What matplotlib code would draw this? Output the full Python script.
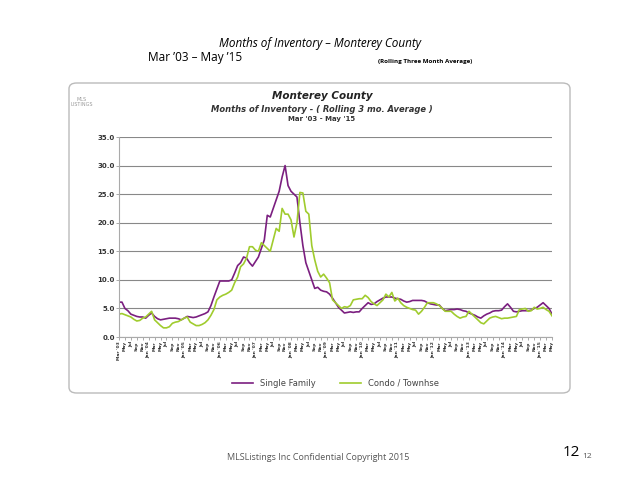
import matplotlib
matplotlib.use("Agg")
import matplotlib.pyplot as plt
from matplotlib.patches import FancyBboxPatch
import numpy as np

single_family = [6.1,6.1,5.0,4.6,4.0,3.8,3.6,3.5,3.5,3.3,
 3.8,4.2,3.6,3.2,3.0,3.1,3.2,3.3,3.3,3.3,3.2,3.0,
 3.3,3.6,3.5,3.4,3.5,3.7,3.9,4.1,4.4,5.5,7.0,8.4,
 9.8,9.8,9.8,9.8,10.0,11.2,12.5,13.0,14.0,13.8,13.0,12.4,
 13.2,14.0,15.5,17.0,21.3,21.0,22.5,24.0,25.5,28.0,30.0,26.5,
 25.5,25.0,24.5,20.0,16.0,13.0,11.5,10.0,8.5,8.7,8.2,8.0,
 7.9,7.5,6.8,6.0,5.2,4.7,4.2,4.3,4.4,4.3,4.4,4.4,
 5.0,5.5,6.0,5.7,5.8,6.2,6.5,6.8,7.0,7.0,7.0,6.8,
 6.7,6.6,6.3,6.1,6.2,6.4,6.4,6.4,6.4,6.3,6.0,5.8,
 5.7,5.6,5.6,5.0,4.6,4.7,4.8,4.8,4.9,4.8,4.6,4.5,
 4.2,4.0,3.8,3.5,3.3,3.7,4.0,4.2,4.5,4.6,4.6,4.7,
 5.3,5.8,5.2,4.5,4.4,4.5,4.6,4.6,4.6,4.7,5.0,5.2,
 5.6,6.0,5.5,5.0,4.0]
condo = [4.0,4.1,3.9,3.7,3.5,3.1,2.8,2.9,3.3,3.5,
 4.0,4.5,3.0,2.5,2.0,1.6,1.6,1.8,2.4,2.6,2.7,3.0,
 3.3,3.5,2.6,2.3,2.0,2.0,2.2,2.5,3.0,3.8,4.8,6.5,
 7.0,7.3,7.5,7.8,8.2,9.5,10.5,12.3,12.8,13.8,15.8,15.8,
 15.2,15.0,16.5,16.0,15.5,15.0,17.0,19.0,18.5,22.5,21.5,21.5,
 20.5,17.5,20.0,25.3,25.2,22.0,21.5,16.0,13.5,11.5,10.5,11.0,
 10.3,9.5,6.5,6.0,5.5,5.0,5.3,5.2,5.5,6.5,6.6,6.7,
 6.7,7.3,6.9,6.2,5.8,5.5,6.0,6.5,7.5,7.0,7.8,6.3,
 6.8,6.0,5.5,5.2,5.0,4.8,4.7,4.0,4.5,5.2,6.0,6.0,
 6.0,5.8,5.5,5.0,4.5,4.5,4.5,4.0,3.6,3.3,3.5,3.6,
 4.5,4.0,3.5,3.0,2.5,2.3,2.8,3.3,3.5,3.6,3.4,3.2,
 3.3,3.3,3.4,3.5,3.6,4.8,4.9,5.0,4.5,4.6,5.2,4.9,
 5.0,5.2,4.8,4.5,3.7]
month_names = ["Jan","Feb","Mar","Apr","May","Jun","Jul","Aug","Sep","Oct","Nov","Dec"]
start_year, start_month = 2003, 3

n = len(single_family)
labels = []
for i in range(n):
    mi = start_month - 1 + i
    y, m = start_year + mi // 12, mi % 12
    if i == 0 or m == 0:
        labels.append(f"{month_names[m]} '{y%100:02d}")
    else:
        labels.append(month_names[m])

W, H = 638, 479
fig = plt.figure(figsize=(W/100, H/100), dpi=100)
fig.patch.set_facecolor("white")

def fx(x): return x / W
def fy(y): return 1 - y / H

fig.text(fx(320), fy(43), "Months of Inventory \u2013 Monterey County", fontsize=8.5,
         style="italic", ha="center", va="center", family="Open Sans")
fig.text(fx(148), fy(57), "Mar \u201903 \u2013 May \u201915", fontsize=8.5, ha="left", va="center", family="Open Sans")
fig.text(fx(378), fy(62), "(Rolling Three Month Average)", fontsize=4.5, fontweight="bold",
         ha="left", va="center", family="Open Sans")
fig.text(fx(318), fy(457), "MLSListings Inc Confidential Copyright 2015", fontsize=6.5,
         ha="center", va="center", color="#555555", family="Open Sans")
fig.text(fx(580), fy(452), "12", fontsize=11, ha="right", va="center", family="Open Sans")
fig.text(fx(582), fy(457), "12", fontsize=6, ha="left", va="center", color="#555555", family="Open Sans")

box = FancyBboxPatch((fx(69), fy(393)), fx(570) - fx(69), fy(83) - fy(393),
                     boxstyle="round,pad=0,rounding_size=0.012", transform=fig.transFigure,
                     facecolor="white", edgecolor="#bbbbbb", linewidth=1, zorder=-5)
fig.patches.append(box)

fig.text(fx(322), fy(96), "Monterey County", fontsize=7.5, fontweight="bold", style="italic",
         ha="center", va="center", color="#222222")
fig.text(fx(322), fy(109), "Months of Inventory - ( Rolling 3 mo. Average )", fontsize=6,
         fontweight="bold", style="italic", ha="center", va="center", color="#333333")
fig.text(fx(322), fy(119), "Mar '03 - May '15", fontsize=5, fontweight="bold",
         ha="center", va="center", color="#333333")
fig.text(fx(82), fy(102), "MLS\nLISTINGS", fontsize=3.5, ha="center", va="center", color="#999999")

ax = fig.add_axes([fx(119), fy(337), fx(552) - fx(119), fy(137) - fy(337)])
ax.set_zorder(5)
ax.patch.set_alpha(0)
x = np.arange(n)
ax.plot(x, single_family, color="#7B1F80", lw=1.2, label="Single Family")
ax.plot(x, condo, color="#A0CC2E", lw=1.2, label="Condo / Townhse")
ax.set_xlim(0, n - 1)
ax.set_ylim(0, 35)
ax.set_yticks(np.arange(0, 35.1, 5))
ax.set_yticklabels([f"{v:.1f}" for v in np.arange(0, 35.1, 5)], fontsize=5, color="#444444", fontweight="bold")
ax.yaxis.grid(True, color="#888888", lw=0.8)
ax.set_axisbelow(True)
ax.set_xticks(x[::2])
ax.set_xticklabels(labels[::2], rotation=90, fontsize=3.2, fontweight="bold", color="#333333")
ax.tick_params(axis="both", length=2, width=0.5, pad=1, colors="#888888", labelcolor="#333333")
for s in ["top", "right"]:
    ax.spines[s].set_visible(False)
for s in ["left", "bottom"]:
    ax.spines[s].set_color("#aaaaaa")
leg = ax.legend(loc="upper center", bbox_to_anchor=(0.5, -0.17), ncol=2, frameon=False,
                fontsize=6, handlelength=2.5, columnspacing=3)
for t in leg.get_texts():
    t.set_color("#444444")

fig.savefig("out.png", dpi=100)
